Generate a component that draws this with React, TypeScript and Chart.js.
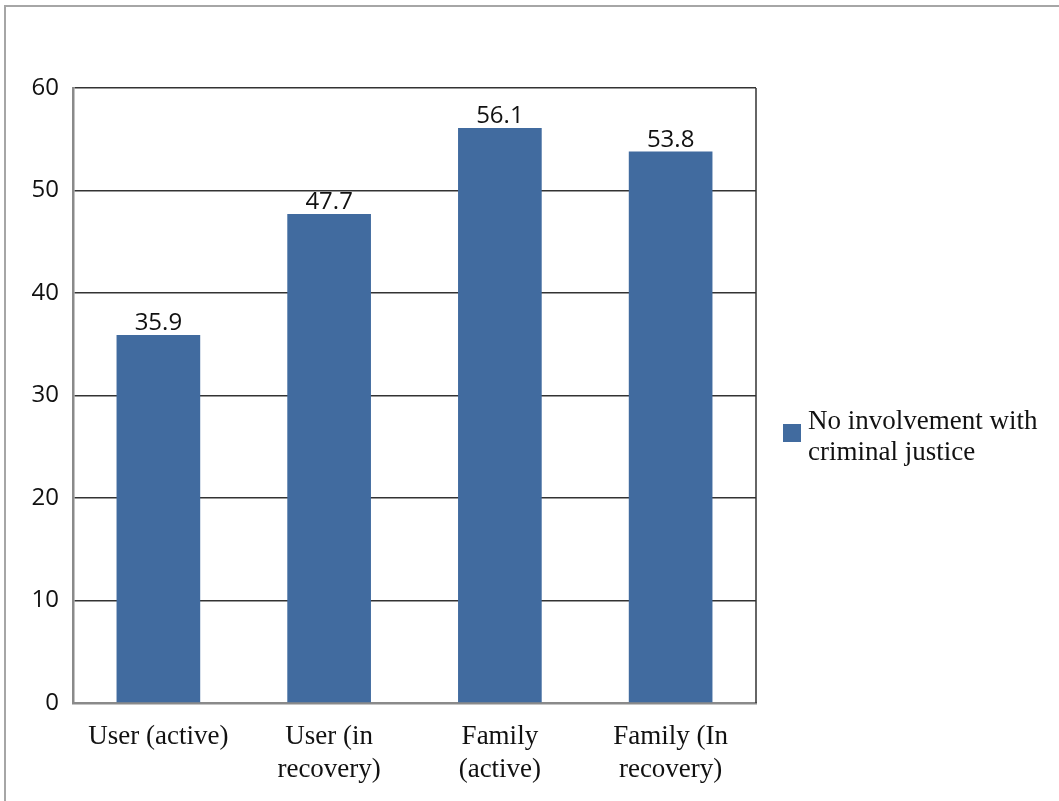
import React, { useEffect, useRef } from "react";
import { Chart, registerables } from "chart.js";

Chart.register(...registerables);

const categories: string[][] = [
  ["User (active)"],
  ["User (in", "recovery)"],
  ["Family", "(active)"],
  ["Family (In", "recovery)"],
];
const values: number[] = [35.9, 47.7, 56.1, 53.8];
const seriesName = "No involvement with criminal justice";
const legendLines: string[] = ["No involvement with", "criminal justice"];
const yMin = 0;
const yMax = 60;
const yStep = 10;

const BAR_COLOR = "#416b9f";
const SERIF = "'Liberation Serif', serif";
const SANS = "'Open Sans', 'Noto Sans', sans-serif";

const extrasPlugin = {
  id: "extras",
  afterDatasetsDraw(chart: any) {
    const ctx = chart.ctx;
    const area = chart.chartArea;
    ctx.save();
    // right border of plot area
    ctx.strokeStyle = "#333";
    ctx.lineWidth = 1.5;
    ctx.beginPath();
    ctx.moveTo(area.right, area.top);
    ctx.lineTo(area.right, area.bottom);
    ctx.stroke();
    // value labels
    const meta = chart.getDatasetMeta(0);
    ctx.fillStyle = "#111";
    ctx.font = `24px ${SANS}`;
    ctx.textAlign = "center";
    ctx.textBaseline = "alphabetic";
    meta.data.forEach((el: any, i: number) => {
      const v = chart.data.datasets[0].data[i] as number;
      ctx.fillText(v.toFixed(1), el.x, el.y - 5);
    });
    // legend
    const lx = area.right + 27;
    const ly = area.top + 336;
    ctx.fillStyle = BAR_COLOR;
    ctx.fillRect(lx, ly, 18, 18);
    ctx.fillStyle = "#111";
    ctx.font = `27px ${SERIF}`;
    ctx.textAlign = "left";
    legendLines.forEach((line, i) => {
      ctx.fillText(line, lx + 25, ly + 5 + i * 31);
    });
    ctx.restore();
  },
};

export default function App() {
  const ref = useRef<HTMLCanvasElement | null>(null);
  useEffect(() => {
    if (!ref.current) return;
    const chart = new Chart(ref.current, {
      type: "bar",
      data: {
        labels: categories,
        datasets: [
          {
            label: seriesName,
            data: values,
            backgroundColor: BAR_COLOR,
            barPercentage: 0.49,
            categoryPercentage: 1,
          },
        ],
      },
      options: {
        responsive: false,
        animation: false,
        layout: { padding: { left: 0, top: 88, right: 303, bottom: 0 } },
        plugins: {
          legend: { display: false },
          tooltip: { enabled: false },
        },
        scales: {
          y: {
            min: yMin,
            max: yMax,
            ticks: {
              stepSize: yStep,
              color: "#111",
              font: { family: SANS, size: 24 },
              padding: 14,
            },
            grid: { color: "#333", lineWidth: 1.5, drawTicks: false },
            border: { color: "#8a8a8a", width: 2.5 },
            afterFit: (s: any) => {
              s.width = 73;
            },
          },
          x: {
            ticks: {
              color: "#111",
              font: { family: SERIF, size: 27, lineHeight: 1.22 },
              padding: 17,
              maxRotation: 0,
            },
            grid: { display: false, drawTicks: false },
            border: { color: "#8a8a8a", width: 2.5 },
            afterFit: (s: any) => {
              s.height = 98;
            },
          },
        },
      },
      plugins: [extrasPlugin],
    });
    return () => chart.destroy();
  }, []);
  return (
    <div style={{ position: "absolute", left: 0, top: 0, width: 1059, height: 801, background: "#fff" }}>
      <canvas ref={ref} width={1059} height={801} style={{ position: "absolute", left: 0, top: 0 }} />
      <div
        style={{
          position: "absolute",
          left: 4,
          top: 5,
          right: 0,
          bottom: 0,
          borderLeft: "2px solid #a6a6a6",
          borderTop: "2px solid #a6a6a6",
          pointerEvents: "none",
        }}
      />
    </div>
  );
}
